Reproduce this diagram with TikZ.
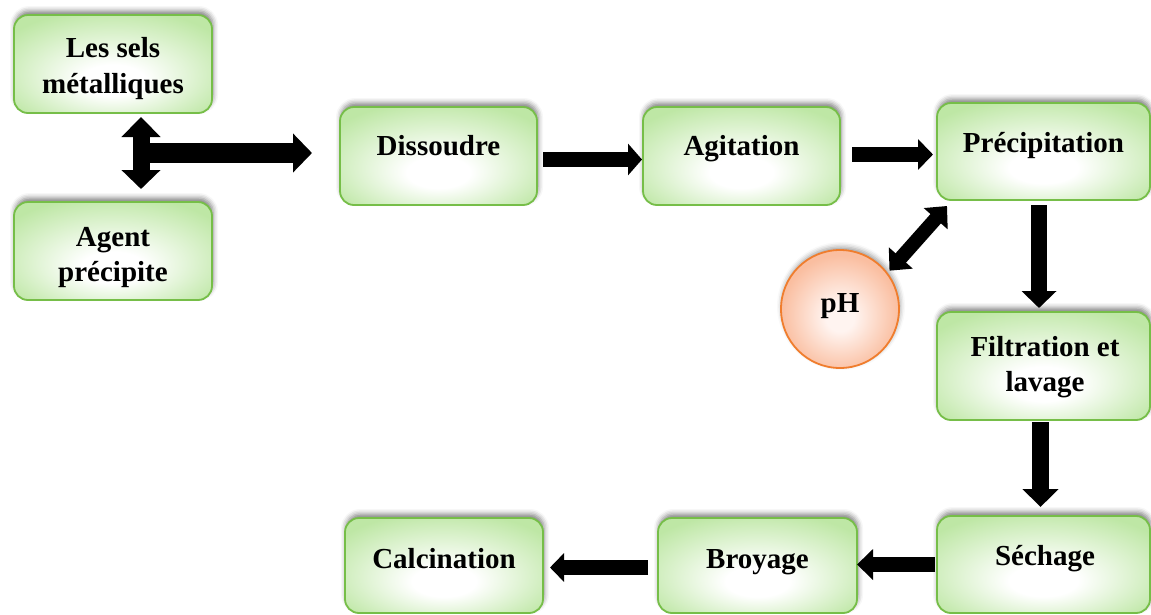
\documentclass[tikz,border=0pt]{standalone}
\usepackage{fontspec}
\setmainfont{Liberation Serif}
\usetikzlibrary{arrows.meta,shadows.blur,calc}
\definecolor{gborder}{RGB}{118,190,72}
\definecolor{gout}{RGB}{190,231,165}
\definecolor{oborder}{RGB}{240,125,45}
\definecolor{oout}{RGB}{250,190,160}
\definecolor{oin}{RGB}{255,244,240}
\pgfdeclareradialshading{gshade}{\pgfpoint{0bp}{-10bp}}{color(0bp)=(white); color(8bp)=(white); color(32bp)=(gout); color(50bp)=(gout)}
\pgfdeclareradialshading{oshade}{\pgfpoint{0bp}{-4bp}}{color(0bp)=(oin); color(6bp)=(oin); color(25bp)=(oout); color(50bp)=(oout)}
\begin{document}
\begin{tikzpicture}[x=1pt,y=-1pt,
  box/.style={draw=gborder, line width=1.8pt, rounded corners=14pt, shading=gshade, outer sep=0pt,
    blur shadow={shadow xshift=1pt, shadow yshift=4pt, shadow blur radius=5pt, shadow opacity=50}},
  phc/.style={circle, draw=oborder, line width=1.8pt, shading=oshade, outer sep=0pt, minimum size=118pt,
    blur shadow={shadow xshift=1pt, shadow yshift=3pt, shadow blur radius=5pt, shadow opacity=40}},
  txt/.style={anchor=base, inner sep=0pt, font=\fontsize{29}{35}\selectfont\bfseries},
  blk/.style={line width=#1, draw=black},
]
\useasboundingbox (0,0) rectangle (1151,614);
% boxes
\node[box, minimum width=198pt, minimum height=98pt] (sels) at (113,64) {};
\node[box, minimum width=198pt, minimum height=98pt] (agent) at (113,251) {};
\node[box, minimum width=197pt, minimum height=98pt] (dis) at (438.5,156) {};
\node[box, minimum width=197pt, minimum height=98pt] (agi) at (741.5,156) {};
\node[box, minimum width=213pt, minimum height=97pt] (pre) at (1043.5,151.5) {};
\node[box, minimum width=213pt, minimum height=108pt] (fil) at (1043.5,366) {};
\node[box, minimum width=213pt, minimum height=97pt] (sec) at (1043.5,564.5) {};
\node[box, minimum width=199pt, minimum height=95pt] (bro) at (757.5,565.5) {};
\node[box, minimum width=198pt, minimum height=95pt] (cal) at (444,565.5) {};
\node[phc] (ph) at (840,309) {};
% texts
\node[txt] (t1a) at (113,57) {Les sels};
\node[txt] (t1b) at (113,93) {métalliques};
\node[txt] (t2a) at (113,246) {Agent};
\node[txt] (t2b) at (113,281) {précipite};
\node[txt] (t3) at (438.5,155) {Dissoudre};
\node[txt] (t4) at (741.5,155) {Agitation};
\node[txt] (t5) at (1043.5,152) {Précipitation};
\node[txt] (t6a) at (1045,356) {Filtration et};
\node[txt] (t6b) at (1045,391) {lavage};
\node[txt] (t7) at (1045,565) {Séchage};
\node[txt] (t8) at (757.5,568) {Broyage};
\node[txt] (t9) at (444,568) {Calcination};
\node[txt] (t10) at (840,312) {pH};
% arrows
\coordinate (j) at ($(sels.south)+(28,40)$);
\draw[blk=17pt, {Triangle[width=38pt,length=20pt]}-{Triangle[width=38pt,length=19pt]}]
  ($(sels.south)+(28,4)$) -- ($(agent.north)+(28,-13)$);
\draw[blk=20pt, -{Triangle[width=38pt,length=19pt]}] (j) -- ($(dis.west)+(-28,-3)$);
\draw[blk=15pt, -{Triangle[width=31pt,length=14pt]}] ($(dis.east)+(6,3.5)$) -- ($(agi.west)+(-1,3.5)$);
\draw[blk=15pt, -{Triangle[width=30pt,length=15pt]}] ($(agi.east)+(12,-1.5)$) -- ($(pre.west)+(-4,3)$);
\draw[blk=16pt, -{Triangle[width=34pt,length=17pt]}] ($(pre.south)+(-4.5,5)$) -- ($(fil.north)+(-4.5,-4)$);
\draw[blk=17pt, -{Triangle[width=35pt,length=18pt]}] ($(fil.south)+(-3,2)$) -- ($(sec.north)+(-3,-9)$);
\draw[blk=15pt, -{Triangle[width=30pt,length=16pt]}] ($(sec.west)+(-2,0)$) -- ($(bro.east)+(0,-1)$);
\draw[blk=15pt, -{Triangle[width=28pt,length=14pt]}] ($(bro.west)+(-10,2)$) -- ($(cal.east)+(7,2)$);
\draw[blk=14pt, {Triangle[width=31pt,length=17pt]}-{Triangle[width=31pt,length=17pt]}]
  ($(ph.38)+(3,-2)$) -- ($(pre.south west)+(10,6)$);
\end{tikzpicture}
\end{document}
